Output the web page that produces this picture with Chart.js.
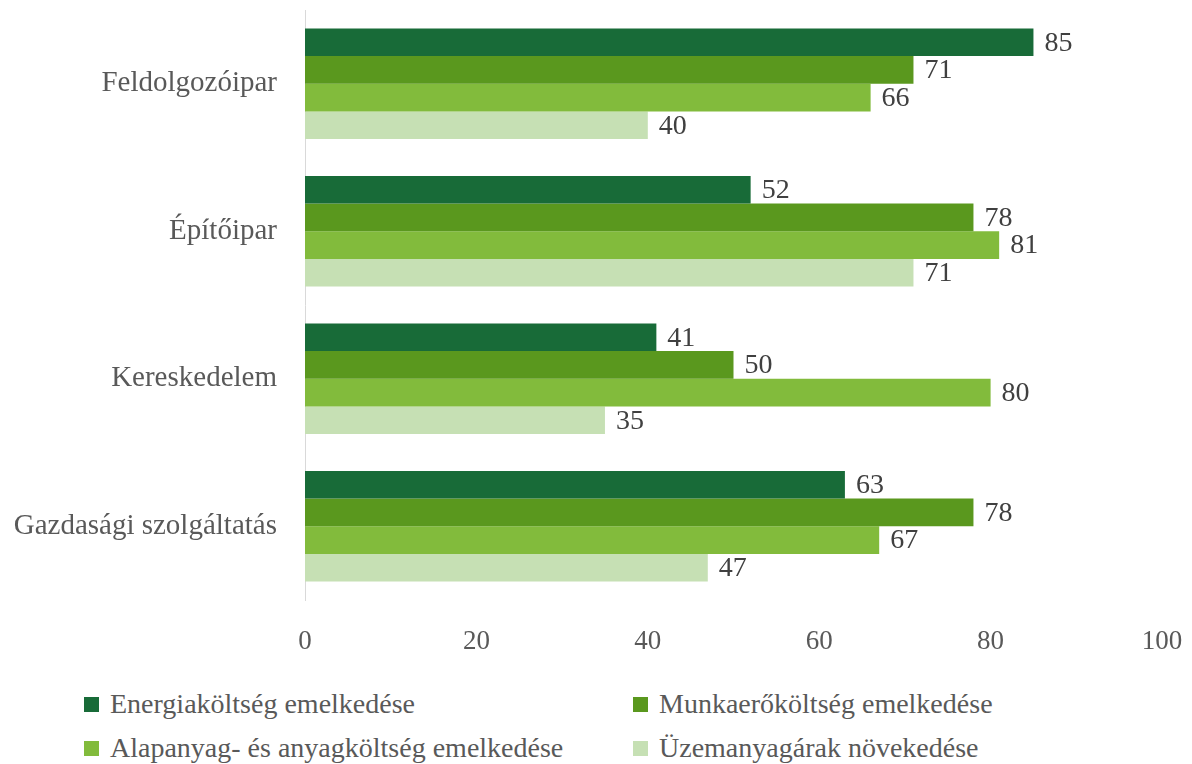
<!DOCTYPE html>
<html>
<head>
<meta charset="utf-8">
<script src="https://cdn.jsdelivr.net/npm/chart.js@4.4.0/dist/chart.umd.min.js"></script>
<style>
  body { margin: 0; background: #fff; font-family: "Liberation Serif", serif; }
  #wrap { position: relative; width: 1192px; height: 764px; }
  #myChart { position: absolute; left: 0; top: 0; }
  #legend { position: absolute; left: 84px; top: 686px; display: grid; grid-template-columns: 549px 520px; row-gap: 8px; }
  .item { display: flex; align-items: center; font-size: 28px; color: #595959; height: 36px; }
  .box { width: 15px; height: 15px; margin-right: 11px; }
</style>
</head>
<body>
<div id="wrap">
  <canvas id="myChart" width="1192" height="668"></canvas>
  <div id="legend"></div>
</div>
<script>
// Categories and series
let categories = ["Feldolgozóipar", "Építőipar", "Kereskedelem", "Gazdasági szolgáltatás"];
let seriesNames = [
  "Energiaköltség emelkedése",
  "Munkaerőköltség emelkedése",
  "Alapanyag- és anyagköltség emelkedése",
  "Üzemanyagárak növekedése"
];
let energia = [85, 52, 41, 63];
let munkaero = [71, 78, 50, 78];
let alapanyag = [66, 81, 80, 67];
let uzemanyag = [40, 71, 35, 47];
let xTicks = [0, 20, 40, 60, 80, 100];

let colors = ["#186b38", "#5a981e", "#82bb3c", "#c6e0b4"];
let values = [energia, munkaero, alapanyag, uzemanyag];

//Draw the value next to the end of each bar.
const valueLabels = {
  id: "valueLabels",
  afterDatasetsDraw(chart) {
    let ctx = chart.ctx;
    ctx.save();
    ctx.font = "28px 'Liberation Serif'";
    ctx.fillStyle = "#404040";
    ctx.textBaseline = "middle";
    ctx.textAlign = "left";
    chart.data.datasets.forEach((ds, i) => {
      chart.getDatasetMeta(i).data.forEach((bar, j) => {
        ctx.fillText(ds.data[j], bar.x + 11, bar.y + 1);
      });
    });
    ctx.restore();
  }
};

let ctx = document.getElementById("myChart").getContext("2d");
let myChart = new Chart(ctx, {
  type: "bar",
  data: {
    labels: categories,
    datasets: seriesNames.map((name, i) => ({
      label: name,
      data: values[i],
      backgroundColor: colors[i],
      categoryPercentage: 0.75,
      barPercentage: 1
    }))
  },
  options: {
    indexAxis: "y",
    responsive: false,
    maintainAspectRatio: false,
    animation: false,
    layout: { padding: { top: 10, right: 30, left: 0, bottom: 0 } },
    plugins: { legend: { display: false }, tooltip: { enabled: false } },
    scales: {
      x: {
        min: 0,
        max: 100,
        afterBuildTicks: scale => { scale.ticks = xTicks.map(v => ({ value: v })); },
        afterFit: scale => {
          scale.height = 68;
          scale.paddingLeft = 0;
          scale.paddingRight = 0;
        },
        grid: { display: false, drawTicks: false },
        border: { display: false },
        ticks: { padding: 26, color: "#595959", font: { family: "Liberation Serif", size: 27 } }
      },
      y: {
        afterFit: scale => {
          scale.width = 305;
          scale.paddingTop = 0;
          scale.paddingBottom = 0;
        },
        grid: { display: false, drawTicks: false },
        border: { display: true, color: "#d9d9d9", width: 1 },
        ticks: { padding: 28, color: "#595959", font: { family: "Liberation Serif", size: 29 } }
      }
    }
  },
  plugins: [valueLabels]
});

//Build the two-column legend from the chart's datasets.
let legendEl = document.getElementById("legend");
myChart.data.datasets.forEach(ds => {
  let item = document.createElement("div");
  item.className = "item";
  item.innerHTML = `<span class="box" style="background:${ds.backgroundColor}"></span><span>${ds.label}</span>`;
  legendEl.appendChild(item);
});
</script>
</body>
</html>
